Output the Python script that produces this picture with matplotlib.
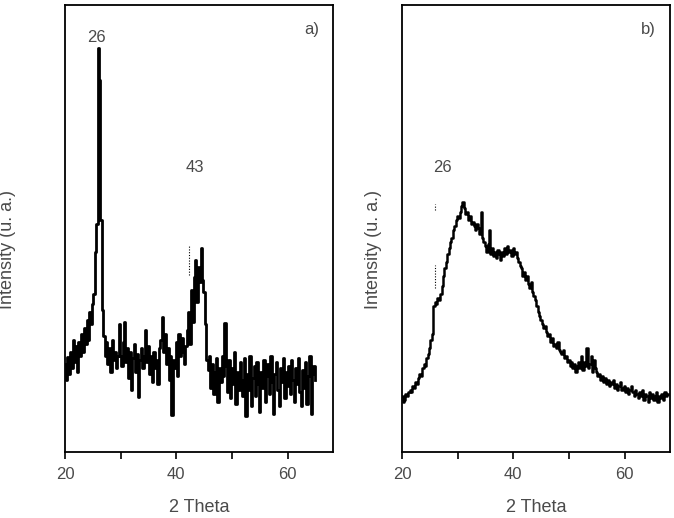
import numpy as np
import matplotlib
matplotlib.use("Agg")
import matplotlib.pyplot as plt
from matplotlib.ticker import MultipleLocator

# 2-theta grid (deg), 0.25 step
step = 0.25
theta_start = 20.0

# panel a) intensity (arb. units), 20.0 -> 65.0
intensity_a = [
    88, 72, 95, 78, 100, 84, 112, 90, 106, 80, 110, 96, 118, 100, 124, 108, 132, 112, 140, 128,
    148, 158, 200, 228, 404, 372, 232, 142, 116, 96, 110, 88, 104, 80, 112, 92, 100, 84, 96, 128,
    96, 86, 110, 130, 90, 104, 74, 100, 62, 94, 108, 80, 98, 55, 92, 104, 84, 96, 122, 90,
    106, 78, 96, 70, 100, 84, 92, 68, 104, 112, 135, 100, 118, 88, 104, 72, 96, 37, 92, 84,
    110, 76, 118, 96, 114, 100, 88, 106, 122, 140, 108, 162, 130, 175, 192, 150, 185, 170, 204, 172,
    160, 128, 92, 82, 96, 64, 88, 58, 80, 94, 50, 84, 70, 96, 76, 129, 86, 60, 92, 54,
    84, 68, 100, 48, 80, 62, 90, 72, 56, 94, 36, 78, 62, 96, 46, 74, 86, 56, 90, 68,
    40, 80, 64, 92, 50, 76, 88, 58, 96, 70, 38, 78, 90, 62, 46, 84, 70, 94, 54, 80,
    66, 86, 58, 92, 72, 50, 84, 68, 94, 60, 46, 82, 64, 90, 48, 76, 96, 38, 78, 86,
    72,
]

# panel b) intensity (arb. units), 20.0 -> 67.75
intensity_b = [
    56, 50, 52, 58, 56, 60, 62, 60, 66, 64, 70, 68, 74, 78, 76, 84, 88, 86, 94, 98,
    104, 112, 118, 146, 150, 148, 154, 152, 158, 166, 176, 184, 190, 198, 204, 210, 214, 222, 226, 232,
    236, 234, 240, 246, 250, 244, 238, 240, 232, 236, 228, 230, 226, 222, 228, 224, 218, 240, 214, 210,
    206, 200, 208, 222, 198, 204, 196, 200, 194, 202, 198, 192, 200, 196, 204, 198, 206, 200, 202, 196,
    204, 198, 200, 194, 190, 186, 184, 176, 180, 172, 176, 168, 164, 170, 160, 156, 152, 146, 140, 136,
    132, 128, 124, 126, 120, 116, 118, 110, 114, 106, 108, 104, 110, 102, 100, 98, 102, 94, 96, 90,
    92, 86, 90, 84, 88, 80, 86, 90, 84, 96, 82, 90, 86, 104, 84, 88, 96, 80, 92, 84,
    80, 76, 78, 72, 76, 70, 74, 68, 72, 66, 70, 68, 72, 64, 68, 62, 66, 70, 62, 64,
    66, 60, 64, 58, 62, 66, 60, 56, 62, 58, 54, 60, 56, 62, 52, 58, 56, 50, 60, 54,
    58, 52, 56, 60, 50, 56, 54, 58, 52, 60, 56, 58,
]

# peak annotations: (label, x, y)
labels_a = [("26", 25.7, 414), ("43", 43.3, 284)]
labels_b = [("26", 27.3, 284)]
# dotted markers: (x, y0, y1)
marks_a = [(42.3, 177, 207)]
marks_b = [(25.9, 164, 187), (25.9, 242, 248)]

theta_a = theta_start + step * np.arange(len(intensity_a))
theta_b = theta_start + step * np.arange(len(intensity_b))

plt.rcParams["font.family"] = ["Liberation Sans", "DejaVu Sans"]
txt = "#4a4a4a"

fig = plt.figure(figsize=(6.74, 5.18), dpi=100)
ax_a = fig.add_axes([0.0964, 0.1274, 0.398, 0.863])
ax_b = fig.add_axes([0.5964, 0.1274, 0.398, 0.863])

panels = [
    (ax_a, theta_a, intensity_a, labels_a, marks_a, "a)", 2.0, -0.183),
    (ax_b, theta_b, intensity_b, labels_b, marks_b, "b)", 1.8, -0.075),
]
for ax, x, y, labels, marks, tag, lw, ylab_x in panels:
    ax.plot(x, y, color="black", lw=lw, drawstyle="steps-mid")
    for xm, y0, y1 in marks:
        ax.plot([xm, xm], [y0, y1], color="black", lw=0.8, ls=(0, (1, 1.5)))
    for s, xt, yt in labels:
        ax.text(xt, yt, s, ha="center", va="center", fontsize=12, color=txt)
    ax.text(0.92, 0.945, tag, transform=ax.transAxes, ha="center", va="center",
            fontsize=12, color=txt)
    ax.set_xlim(20, 68.2)
    ax.set_ylim(0, 447)
    ax.xaxis.set_major_locator(MultipleLocator(20))
    ax.xaxis.set_minor_locator(MultipleLocator(10))
    ax.tick_params(axis="x", which="both", direction="out", length=5, width=1.2,
                   labelsize=12, labelcolor=txt, pad=6)
    ax.set_yticks([])
    for sp in ax.spines.values():
        sp.set_linewidth(1.3)
    ax.set_xlabel("2 Theta", fontsize=13, color=txt, labelpad=12)
    ax.set_ylabel("Intensity (u. a.)", fontsize=13, color=txt)
    ax.yaxis.set_label_coords(ylab_x, 0.452)

fig.savefig("out.png", dpi=100)
